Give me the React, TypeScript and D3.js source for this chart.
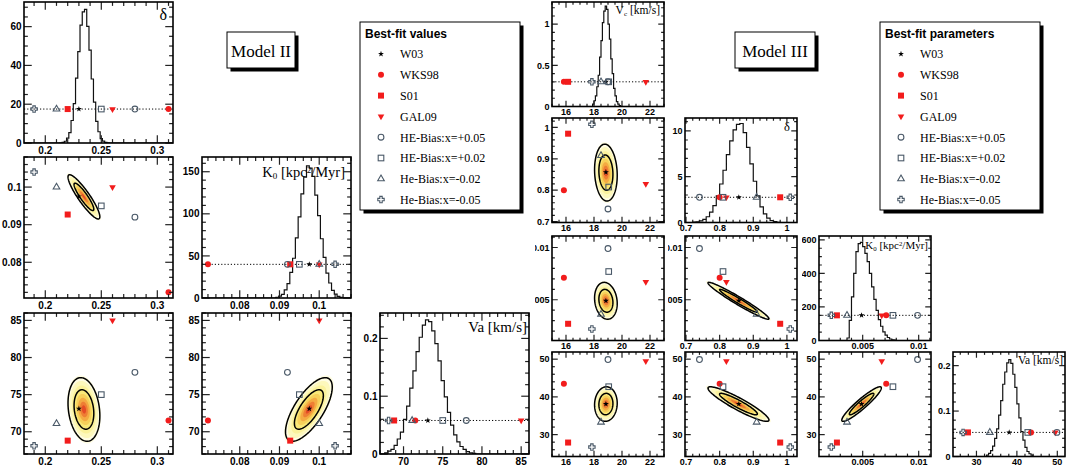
import * as d3 from "d3";
import { useEffect, useRef } from "react";

const WIDTH = 1066;
const HEIGHT = 467;

// legend rows (same order as every point array below)
const LABELS = ["W03", "WKS98", "S01", "GAL09", "HE-Bias:x=+0.05", "HE-Bias:x=+0.02", "He-Bias:x=-0.02", "He-Bias:x=-0.05"];
const KINDS = ["star", "dot", "box", "tridown", "ocircle", "obox", "otri", "ocross"];

// ---------------- Model II : delta, K0, Va ----------------
const M2_DELTA = [0.23, 0.31, 0.22, 0.26, 0.28, 0.25, 0.21, 0.19];
const M2_K0 = [0.0975, 0.072, 0.0927, 0.1, 0.092, 0.095, 0.1, 0.104];
const M2_VA = [73.1, 71.5, 68.8, 85, 78, 75, 71.1, 68.1];

const M2_RANGES = [[0.181, 0.314], [0.0705, 0.108], [67, 86]];
const M2_TICKS = [[0.2, 0.25, 0.3], [0.08, 0.09, 0.1], [70, 75, 80, 85]];
const M2_MINOR = [0.01, 0.002, 1];

// posterior summary used for the 2D credible regions
const M2_MEAN = [0.2345, 0.0974, 73.0];
const M2_SIGMA = [0.0058, 0.0024, 1.75];
const M2_CORR = [[1, -0.9, -0.2], [-0.9, 1, 0.7], [-0.2, 0.7, 1]];

// marginal histograms (bin heights), first edge and bin width
const M2_DELTA_HIST = [0.1, 0.3, 0.9, 2.5, 5.4, 11.6, 20.3, 33.5, 47.1, 60.8, 67.6, 68.9, 60.1, 47.9, 33.0, 21.1, 11.2, 5.8, 2.3, 1.0, 0.3, 0.1];
const M2_K0_HIST = [0.9, 2.2, 4.4, 9.6, 17.1, 30.4, 47.2, 71.5, 96.4, 123.8, 143.5, 156.9, 154.2, 144.6, 122.1, 97.8, 70.4, 48.3, 29.5, 17.8, 9.0, 4.7, 2.0, 0.8];
const M2_VA_HIST = [0.002, 0.005, 0.008, 0.015, 0.026, 0.038, 0.06, 0.083, 0.114, 0.144, 0.177, 0.202, 0.223, 0.232, 0.229, 0.213, 0.191, 0.161, 0.127, 0.099, 0.072, 0.05, 0.033, 0.021, 0.013, 0.008, 0.004, 0.002, 0.001];
const M2_HIST_EDGE = [0.213, 0.0891, 67.6];
const M2_HIST_WIDTH = [0.002, 0.0007, 0.4];
const M2_HIST_TOP = [72.7, 167.5, 0.244];
const M2_HIST_TICKS = [[0, 20, 40, 60], [0, 50, 100, 150], [0, 0.1, 0.2]];
const M2_HIST_MINOR = [5, 10, 0.02];
const M2_MARK_LEVEL = [17.5, 40, 0.058];

// ---------------- Model III : Vc, delta, K0, Va ----------------
const M3_VC = [18.85, 15.85, 16.15, 21.7, 19.0, 19.05, 18.5, 17.85];
const M3_DELTA = [0.857, 0.8, 0.98, 0.82, 0.74, 0.81, 0.91, 1.01];
const M3_K0 = [0.0049, 0.0071, 0.0027, 0.0067, 0.0099, 0.0077, 0.0036, 0.0022];
const M3_VA = [38.1, 43.5, 27.9, 49.5, 49.9, 42.7, 33.3, 26.7];

const M3_RANGES = [[15, 23], [0.697, 1.03], [0.0011, 0.0111], [24.2, 51.9]];
const M3_TICKS = [[16, 18, 20, 22], [0.7, 0.8, 0.9, 1], [0.005, 0.01], [30, 40, 50]];
const M3_MINOR = [0.5, 0.02, 0.001, 2];

const M3_MEAN = [18.85, 0.856, 0.0049, 38.1];
const M3_SIGMA = [0.33, 0.037, 0.00072, 1.87];
const M3_CORR = [
  [1, -0.1, -0.15, 0.05],
  [-0.1, 1, -0.97, -0.92],
  [-0.15, -0.97, 1, 0.93],
  [0.05, -0.92, 0.93, 1],
];

const M3_VC_HIST = [0.03, 0.07, 0.13, 0.24, 0.38, 0.6, 0.8, 1.02, 1.16, 1.22, 1.18, 1.0, 0.82, 0.58, 0.4, 0.22, 0.13, 0.06, 0.03, 0.01];
const M3_DELTA_HIST = [0.04, 0.08, 0.17, 0.35, 0.63, 1.14, 1.85, 2.9, 4.2, 5.7, 7.4, 8.9, 10.1, 10.7, 10.8, 9.8, 8.2, 6.4, 4.5, 2.9, 1.7, 0.95, 0.48, 0.22, 0.09, 0.03];
const M3_K0_HIST = [15, 120, 260, 400, 530, 578, 585, 560, 520, 470, 400, 320, 245, 180, 125, 85, 52, 32, 18, 9, 4, 2];
const M3_VA_HIST = [0.003, 0.007, 0.013, 0.023, 0.04, 0.061, 0.091, 0.123, 0.159, 0.186, 0.206, 0.213, 0.205, 0.181, 0.152, 0.116, 0.085, 0.055, 0.036, 0.02, 0.011, 0.006, 0.003];
const M3_HIST_EDGE = [17.9, 0.72, 0.0036, 32.5];
const M3_HIST_WIDTH = [0.1, 0.01, 0.0002, 0.5];
const M3_HIST_TOP = [1.27, 11.4, 623, 0.23];
const M3_HIST_TICKS = [[0, 0.5, 1], [0, 5, 10], [0, 200, 400, 600], [0, 0.1, 0.2]];
const M3_HIST_MINOR = [0.1, 1, 50, 0.02];
const M3_MARK_LEVEL = [0.3, 2.75, 150, 0.053];

// histogram titles: [text, 0 normal | 1 subscript | -1 superscript]
const M2_TITLES: [string, number][][] = [
  [["δ", 0]],
  [["K", 0], ["0", 1], [" [kpc", 0], ["2", -1], ["/Myr]", 0]],
  [["Va [km/s]", 0]],
];
const M3_TITLES: [string, number][][] = [
  [["V", 0], ["c", 1], [" [km/s]", 0]],
  [["δ", 0]],
  [["K", 0], ["0", 1], [" [kpc", 0], ["2", -1], ["/Myr]", 0]],
  [["Va [km/s]", 0]],
];

// ---------------- layout / style ----------------
const M2_LAYOUT = {
  colX: [24, 202, 380], rowY: [2, 157, 313], w: 149, h: 141, font: 10, labelGap: 11.2, padLeft: 28,
  titleInset: [6, 6, 2], titleBase: [18, 20, 19], titleSize: [16, 14.5, 15],
};
const M3_LAYOUT = {
  colX: [552, 685, 819, 953], rowY: [2, 118, 236, 352], w: 112, h: 104.5, font: 9, labelGap: 8.3, padLeft: 17,
  titleInset: [4, 7, 3, 2], titleBase: [12, 13, 13, 12], titleSize: [11.5, 12.5, 11, 11.5],
};

const SERIF = "'Liberation Serif', 'Times New Roman', serif";
const SANS = "'Liberation Sans', Arial, Helvetica, sans-serif";
const RED = "#f21c1c";
const GREY = "#4a5968";
const BANDS: [number, string][] = [
  [2.62, "#fffde3"],
  [2.2, "#fdf8bc"],
  [1.85, "#fbf29c"],
  [1.52, "#f9e878"],
  [1.2, "#f7d05a"],
  [0.9, "#f4aa42"],
  [0.6, "#ee7e34"],
  [0.32, "#e54c26"],
];
const CONTOURS = [1.52, 2.45];
const ANGLES = d3.range(0, 2 * Math.PI, Math.PI / 72);

type Sel = d3.Selection<any, any, any, any>;

function minorTicks(dom: number[], step: number) {
  const out: number[] = [];
  for (let k = Math.ceil(dom[0] / step - 1e-9); k * step <= dom[1] + 1e-12; k++) out.push(+(k * step).toFixed(10));
  return out;
}

function marker(g: Sel, kind: string, x: number, y: number) {
  const t = `translate(${x},${y})`;
  if (kind === "star") {
    g.append("path").attr("d", d3.symbol(d3.symbolStar, 11)()).attr("transform", t).attr("fill", "#000");
  } else if (kind === "dot") {
    g.append("circle").attr("cx", x).attr("cy", y).attr("r", 3).attr("fill", RED);
  } else if (kind === "box") {
    g.append("rect").attr("x", x - 3).attr("y", y - 3).attr("width", 6).attr("height", 6).attr("fill", RED);
  } else if (kind === "tridown") {
    g.append("path").attr("d", d3.symbol(d3.symbolTriangle, 19)()).attr("transform", `${t} rotate(180)`).attr("fill", RED);
  } else if (kind === "ocircle") {
    g.append("circle").attr("cx", x).attr("cy", y).attr("r", 2.9)
      .attr("fill", "none").attr("stroke", GREY).attr("stroke-width", 1.1);
  } else if (kind === "obox") {
    g.append("rect").attr("x", x - 2.8).attr("y", y - 2.8).attr("width", 5.6).attr("height", 5.6)
      .attr("fill", "none").attr("stroke", GREY).attr("stroke-width", 1.1);
  } else if (kind === "otri") {
    g.append("path").attr("d", d3.symbol(d3.symbolTriangle, 19)()).attr("transform", t)
      .attr("fill", "none").attr("stroke", GREY).attr("stroke-width", 1.1);
  } else {
    const a = 1.2, b = 3.2;
    const pts = [[-a, -b], [a, -b], [a, -a], [b, -a], [b, a], [a, a], [a, b], [-a, b], [-a, a], [-b, a], [-b, -a], [-a, -a]];
    g.append("path").attr("d", d3.line()(pts as [number, number][]) + "Z").attr("transform", t)
      .attr("fill", "none").attr("stroke", GREY).attr("stroke-width", 1.1);
  }
}

function pave(root: Sel, x: number, y: number, w: number, h: number) {
  root.append("rect").attr("x", x + 3.5).attr("y", y + 3.5).attr("width", w).attr("height", h).attr("fill", "#000");
  root.append("rect").attr("x", x).attr("y", y).attr("width", w).attr("height", h)
    .attr("fill", "#fff").attr("stroke", "#000").attr("stroke-width", 1);
}

function legend(root: Sel, x: number, y: number, title: string) {
  pave(root, x, y, 160, 188);
  root.append("text").attr("x", x + 5).attr("y", y + 16).attr("font-family", SANS)
    .attr("font-weight", "bold").attr("font-size", 12).text(title);
  LABELS.forEach((lab, k) => {
    const cy = y + 32 + k * 20.8;
    marker(root, KINDS[k], x + 21, cy);
    root.append("text").attr("x", x + 40).attr("y", cy + 4.3).attr("font-family", SERIF)
      .attr("font-size", 12).text(lab);
  });
}

export default function App() {
  const svgRef = useRef<SVGSVGElement>(null);

  useEffect(() => {
    if (!svgRef.current) return;
    const svg = d3.select(svgRef.current);
    svg.selectAll("*").remove();

    const models = [
      {
        id: "m2", points: [M2_DELTA, M2_K0, M2_VA], ranges: M2_RANGES, ticks: M2_TICKS, minor: M2_MINOR,
        mean: M2_MEAN, sigma: M2_SIGMA, corr: M2_CORR,
        hists: [M2_DELTA_HIST, M2_K0_HIST, M2_VA_HIST], edge: M2_HIST_EDGE, binw: M2_HIST_WIDTH,
        histTop: M2_HIST_TOP, histTicks: M2_HIST_TICKS, histMinor: M2_HIST_MINOR, level: M2_MARK_LEVEL,
        titles: M2_TITLES, layout: M2_LAYOUT,
      },
      {
        id: "m3", points: [M3_VC, M3_DELTA, M3_K0, M3_VA], ranges: M3_RANGES, ticks: M3_TICKS, minor: M3_MINOR,
        mean: M3_MEAN, sigma: M3_SIGMA, corr: M3_CORR,
        hists: [M3_VC_HIST, M3_DELTA_HIST, M3_K0_HIST, M3_VA_HIST], edge: M3_HIST_EDGE, binw: M3_HIST_WIDTH,
        histTop: M3_HIST_TOP, histTicks: M3_HIST_TICKS, histMinor: M3_HIST_MINOR, level: M3_MARK_LEVEL,
        titles: M3_TITLES, layout: M3_LAYOUT,
      },
    ];

    models.forEach((m) => {
      const L = m.layout;
      const n = m.points.length;
      for (let i = 0; i < n; i++) {
        for (let j = 0; j <= i; j++) {
          const x0 = L.colX[j];
          const y0 = L.rowY[i];
          const w = L.w;
          const h = L.h;
          const isHist = i === j;
          const xs = d3.scaleLinear().domain(m.ranges[j]).range([x0, x0 + w]);
          const ys = d3.scaleLinear()
            .domain(isHist ? [0, m.histTop[i]] : m.ranges[i])
            .range([y0 + h, y0]);
          const xt = m.ticks[j];
          const yt = isHist ? m.histTicks[i] : m.ticks[i];
          const xm = m.minor[j];
          const ym = isHist ? m.histMinor[i] : m.minor[i];
          const cid = `${m.id}-${i}-${j}`;

          const pad = svg.append("g").attr("clip-path", `url(#pad-${cid})`);
          pad.append("clipPath").attr("id", `pad-${cid}`).append("rect")
            .attr("x", x0 - L.padLeft).attr("y", y0 - 3).attr("width", w + L.padLeft + 3).attr("height", h + L.font + 8);
          pad.append("clipPath").attr("id", `in-${cid}`).append("rect")
            .attr("x", x0).attr("y", y0).attr("width", w).attr("height", h);
          pad.append("rect").attr("x", x0).attr("y", y0).attr("width", w).attr("height", h).attr("fill", "#fff");
          const body = pad.append("g").attr("clip-path", `url(#in-${cid})`);
          const marks = pad.append("g");
          const deco = pad.append("g");

          if (isHist) {
            const bins = m.hists[i];
            const e0 = m.edge[i];
            const bw = m.binw[i];
            const dom = m.ranges[i];
            const pts: [number, number][] = [[dom[0], 0]];
            bins.forEach((v, k) => pts.push([e0 + k * bw, v]));
            pts.push([e0 + bins.length * bw, 0]);
            pts.push([dom[1], 0]);
            const line = d3.line<[number, number]>().x((d) => xs(d[0])).y((d) => ys(d[1])).curve(d3.curveStepAfter);
            body.append("path").attr("d", line(pts)).attr("fill", "none").attr("stroke", "#111").attr("stroke-width", 1.2);
            body.append("line").attr("x1", x0).attr("x2", x0 + w)
              .attr("y1", ys(m.level[i])).attr("y2", ys(m.level[i]))
              .attr("stroke", "#000").attr("stroke-width", 1).attr("stroke-dasharray", "1.2,2");
            m.points[i].forEach((v, k) => marker(marks, KINDS[k], xs(v), ys(m.level[i])));

            const tx = deco.append("text").attr("x", x0 + w - L.titleInset[i]).attr("y", y0 + L.titleBase[i])
              .attr("text-anchor", "end").attr("font-family", SERIF).attr("font-size", L.titleSize[i]);
            m.titles[i].forEach(([s, sh]) => {
              const ts = tx.append("tspan").text(s);
              if (sh !== 0) ts.attr("font-size", L.titleSize[i] * 0.62).attr("baseline-shift", sh > 0 ? "-22%" : "45%");
            });
          } else {
            const mx = m.mean[j], my = m.mean[i];
            const sx = m.sigma[j], sy = m.sigma[i];
            const rho = m.corr[i][j];
            const c = Math.sqrt(1 - rho * rho);
            const ring = (r: number) =>
              ANGLES.map((t) => [mx + r * sx * Math.cos(t), my + r * sy * (rho * Math.cos(t) + c * Math.sin(t))] as [number, number]);
            const line = d3.line<[number, number]>().x((d) => xs(d[0])).y((d) => ys(d[1])).curve(d3.curveLinearClosed);
            BANDS.forEach(([r, col]) => body.append("path").attr("d", line(ring(r))).attr("fill", col));
            CONTOURS.forEach((r) =>
              body.append("path").attr("d", line(ring(r))).attr("fill", "none").attr("stroke", "#000").attr("stroke-width", 1.5)
            );
            m.points[j].forEach((v, k) => marker(marks, KINDS[k], xs(v), ys(m.points[i][k])));
          }

          // ticks on all four sides, pointing inwards
          const len = Math.min(w, h) * 0.055;
          const tk = deco.append("g").attr("stroke", "#222").attr("stroke-width", 1.2);
          minorTicks(xs.domain(), xm).forEach((v) => {
            const l = xt.some((t) => Math.abs(t - v) < xm * 0.01) ? len : len / 2;
            const px = xs(v);
            tk.append("line").attr("x1", px).attr("x2", px).attr("y1", y0 + h).attr("y2", y0 + h - l);
            tk.append("line").attr("x1", px).attr("x2", px).attr("y1", y0).attr("y2", y0 + l);
          });
          minorTicks(ys.domain(), ym).forEach((v) => {
            const l = yt.some((t) => Math.abs(t - v) < ym * 0.01) ? len : len / 2;
            const py = ys(v);
            tk.append("line").attr("x1", x0).attr("x2", x0 + l).attr("y1", py).attr("y2", py);
            tk.append("line").attr("x1", x0 + w).attr("x2", x0 + w - l).attr("y1", py).attr("y2", py);
          });
          deco.append("rect").attr("x", x0).attr("y", y0).attr("width", w).attr("height", h)
            .attr("fill", "none").attr("stroke", "#000").attr("stroke-width", 1.6);

          const lab = deco.append("g").attr("font-family", SANS).attr("font-weight", "bold").attr("font-size", L.font);
          xt.forEach((t) =>
            lab.append("text").attr("x", xs(t)).attr("y", y0 + h + L.labelGap).attr("text-anchor", "middle").text(String(t))
          );
          yt.forEach((t) =>
            lab.append("text").attr("x", x0 - 2.5).attr("y", ys(t)).attr("dy", "0.36em").attr("text-anchor", "end").text(String(t))
          );
        }
      }
    });

    // model name boxes
    pave(svg, 227, 32, 68, 36);
    svg.append("text").attr("x", 261).attr("y", 56.5).attr("text-anchor", "middle")
      .attr("font-family", SERIF).attr("font-size", 17).text("Model II");
    pave(svg, 735, 32, 80, 36);
    svg.append("text").attr("x", 775).attr("y", 56.5).attr("text-anchor", "middle")
      .attr("font-family", SERIF).attr("font-size", 17).text("Model III");

    legend(svg, 360, 22, "Best-fit values");
    legend(svg, 880, 22, "Best-fit parameters");
  }, []);

  return (
    <svg
      ref={svgRef}
      width={WIDTH}
      height={HEIGHT}
      style={{ position: "absolute", left: 0, top: 0, background: "#fff" }}
    />
  );
}
